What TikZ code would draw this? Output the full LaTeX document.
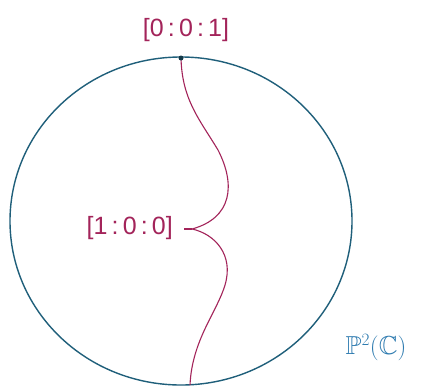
\documentclass[tikz,border=0pt]{standalone}
\usepackage{amssymb}
\usepackage{fontspec}
\setmainfont{Liberation Sans}
\usetikzlibrary{shapes.geometric}
\definecolor{ring}{HTML}{1F5F7A}
\definecolor{crim}{HTML}{A3245A}
\definecolor{lab}{HTML}{2E7BB0}
\tikzset{pt/.style={crim, font=\fontsize{25}{26}\selectfont, inner sep=1pt}}
\begin{document}
\begin{tikzpicture}[x=1pt,y=-1pt]
\useasboundingbox (0,0) rectangle (425,391);
\fill[white] (0,0) rectangle (425,391);
\node[draw=ring, line width=1.4pt, ellipse, minimum width=342pt, minimum height=328pt, inner sep=0pt] (sphere) at (181,221) {};
\coordinate (top) at (181,58);
\coordinate (cusp) at (192,229);
\coordinate (bot) at (190,385);
\draw[crim, line width=1.1pt] (top) .. controls (182,100) and (200,120) .. (218,150)
  .. controls (236,185) and (232,218) .. (cusp)
  .. controls (215,234) and (234,255) .. (225,285)
  .. controls (217,312) and (192,340) .. (bot);
\fill[ring!60!black] (top) circle (2.5pt);
\node[pt] (a) at (186,30) {[0\,:\,0\,:\,1]};
\node[pt, anchor=east] (b) at (174,228) {[1\,:\,0\,:\,0]};
\draw[crim, line width=1.1pt] (b.east) ++(10,1) -- (cusp);
\node[lab, font=\fontsize{26}{28}\selectfont] (p) at (376,348) {$\mathbb{P}^{2}(\mathbb{C})$};
\end{tikzpicture}
\end{document}
